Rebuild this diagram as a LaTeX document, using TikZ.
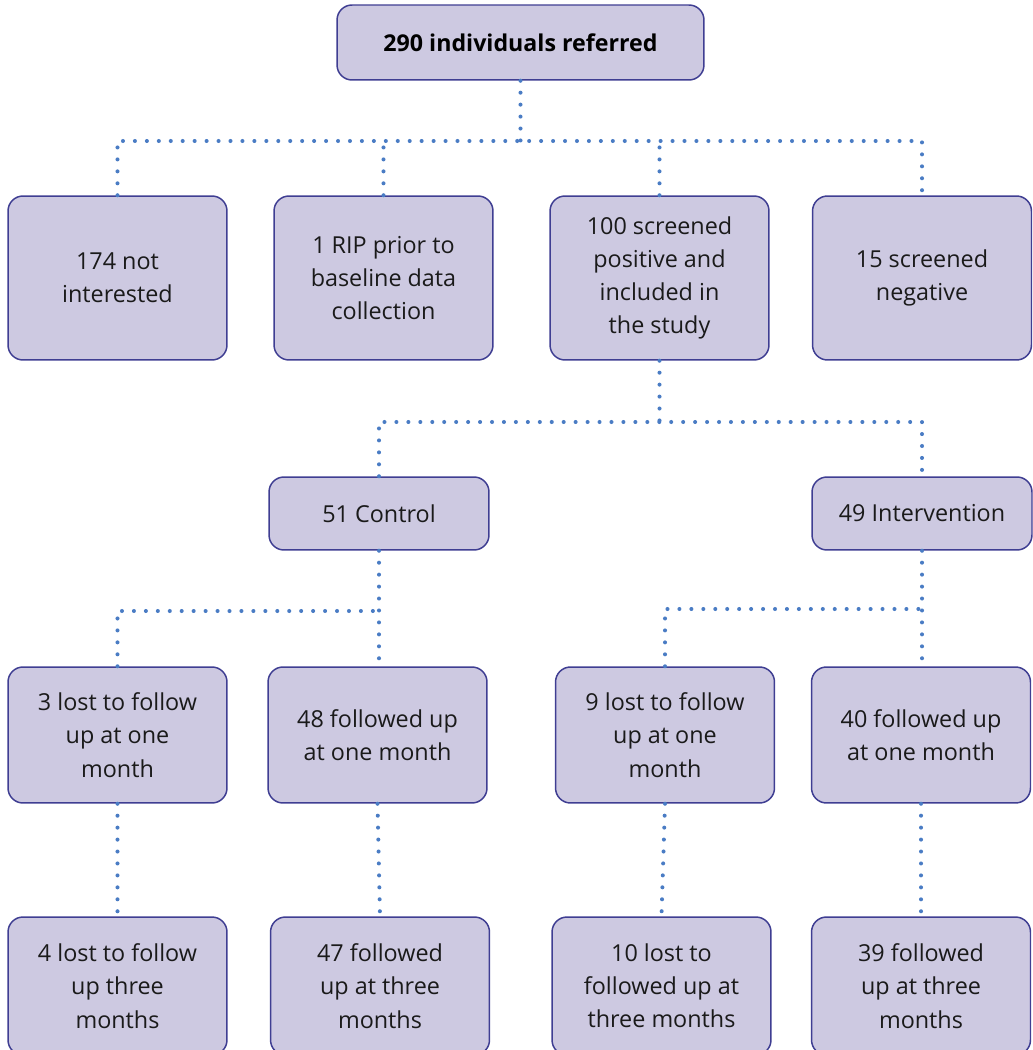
\documentclass[tikz,border=0pt]{standalone}
\usepackage{fontspec}
\setmainfont{Open Sans}
\usetikzlibrary{positioning}
\definecolor{boxfill}{HTML}{CDC9E1}
\definecolor{boxline}{HTML}{3F3E92}
\definecolor{linkblue}{HTML}{4A7CC4}
\definecolor{inktext}{HTML}{1A1A1A}

\begin{document}
\begin{tikzpicture}[x=0.02cm,y=-0.02cm,
	stage/.style={draw=boxline, fill=boxfill, line width=0.85pt, rounded corners=0.3cm, align=center, inner sep=0pt, text=inktext, font=\fontsize{13.3}{18.9}\selectfont},
	link/.style={draw=linkblue, line width=2.3pt, line cap=round, dash pattern=on 0pt off 6.8pt}]
	\clip (0,0) rectangle (1033,1050);
	
	\node[stage, minimum width=7.34cm, minimum height=1.5cm, text=black, font=\fontsize{13.2}{18.9}\selectfont\bfseries] (top) at (520.5,42.5) {290 individuals referred};
	
	\node[stage, minimum width=4.38cm, minimum height=3.28cm] (notint) at (117.5,278) {174 not\\interested};
	\node[stage, minimum width=4.38cm, minimum height=3.28cm] (rip) at (383.5,278) {1 RIP prior to\\baseline data\\collection};
	\node[stage, minimum width=4.38cm, minimum height=3.28cm] (pos) at (659.5,278) {100 screened\\positive and\\included in\\the study};
	\node[stage, minimum width=4.38cm, minimum height=3.28cm] (neg) at (922,278) {15 screened\\negative};
	
	\node[stage, minimum width=4.4cm, minimum height=1.46cm] (ctrl) at (379,513.5) {51 Control};
	\node[stage, minimum width=4.4cm, minimum height=1.46cm] (intv) at (922,513.5) {49 Intervention};
	
	\node[stage, minimum width=4.38cm, minimum height=2.72cm] (clost1) at (117.5,735) {3 lost to follow\\up at one\\month};
	\node[stage, minimum width=4.38cm, minimum height=2.72cm] (cfol1) at (377.5,735) {48 followed up\\at one month};
	\node[stage, minimum width=4.38cm, minimum height=2.72cm] (ilost1) at (665,735) {9 lost to follow\\up at one\\month};
	\node[stage, minimum width=4.38cm, minimum height=2.72cm] (ifol1) at (921,735) {40 followed up\\at one month};
	
	\node[stage, minimum width=4.38cm, minimum height=2.76cm] (clost3) at (117.5,986) {4 lost to follow\\up three\\months};
	\node[stage, minimum width=4.38cm, minimum height=2.76cm] (cfol3) at (380,986) {47 followed\\up at three\\months};
	\node[stage, minimum width=4.38cm, minimum height=2.76cm] (ilost3) at (661.5,986) {10 lost to\\followed up at\\three months};
	\node[stage, minimum width=4.38cm, minimum height=2.76cm] (ifol3) at (921,986) {39 followed\\up at three\\months};
	
	% dotted connectors
	\coordinate (bar1) at (0,141);
	\coordinate (bar2) at (0,422);
	\coordinate (bar3) at (0,611);
	\coordinate (bar4) at (0,609);
	
	\draw[link] (top.south) -- (top.south |- bar1);
	\draw[link] (notint.north) -- (notint.north |- bar1) -- (neg.north |- bar1) -- (neg.north);
	\draw[link] (rip.north) -- (rip.north |- bar1);
	\draw[link] (pos.north) -- (pos.north |- bar1);
	
	\draw[link] (pos.south) -- (pos.south |- bar2);
	\draw[link] (ctrl.north) -- (ctrl.north |- bar2) -- (intv.north |- bar2) -- (intv.north);
	
	\draw[link] (ctrl.south) -- (ctrl.south |- cfol1.north);
	\draw[link] (clost1.north) -- (clost1.north |- bar3) -- (ctrl.south |- bar3);
	\draw[link] (intv.south) -- (intv.south |- ifol1.north);
	\draw[link] (ilost1.north) -- (ilost1.north |- bar4) -- (intv.south |- bar4);
	
	\draw[link] (clost1.south) -- (clost3.north);
	\draw[link] (cfol1.south) -- (cfol3.north);
	\draw[link] (ilost1.south) -- (ilost3.north);
	\draw[link] (ifol1.south) -- (ifol3.north);
\end{tikzpicture}
\end{document}
